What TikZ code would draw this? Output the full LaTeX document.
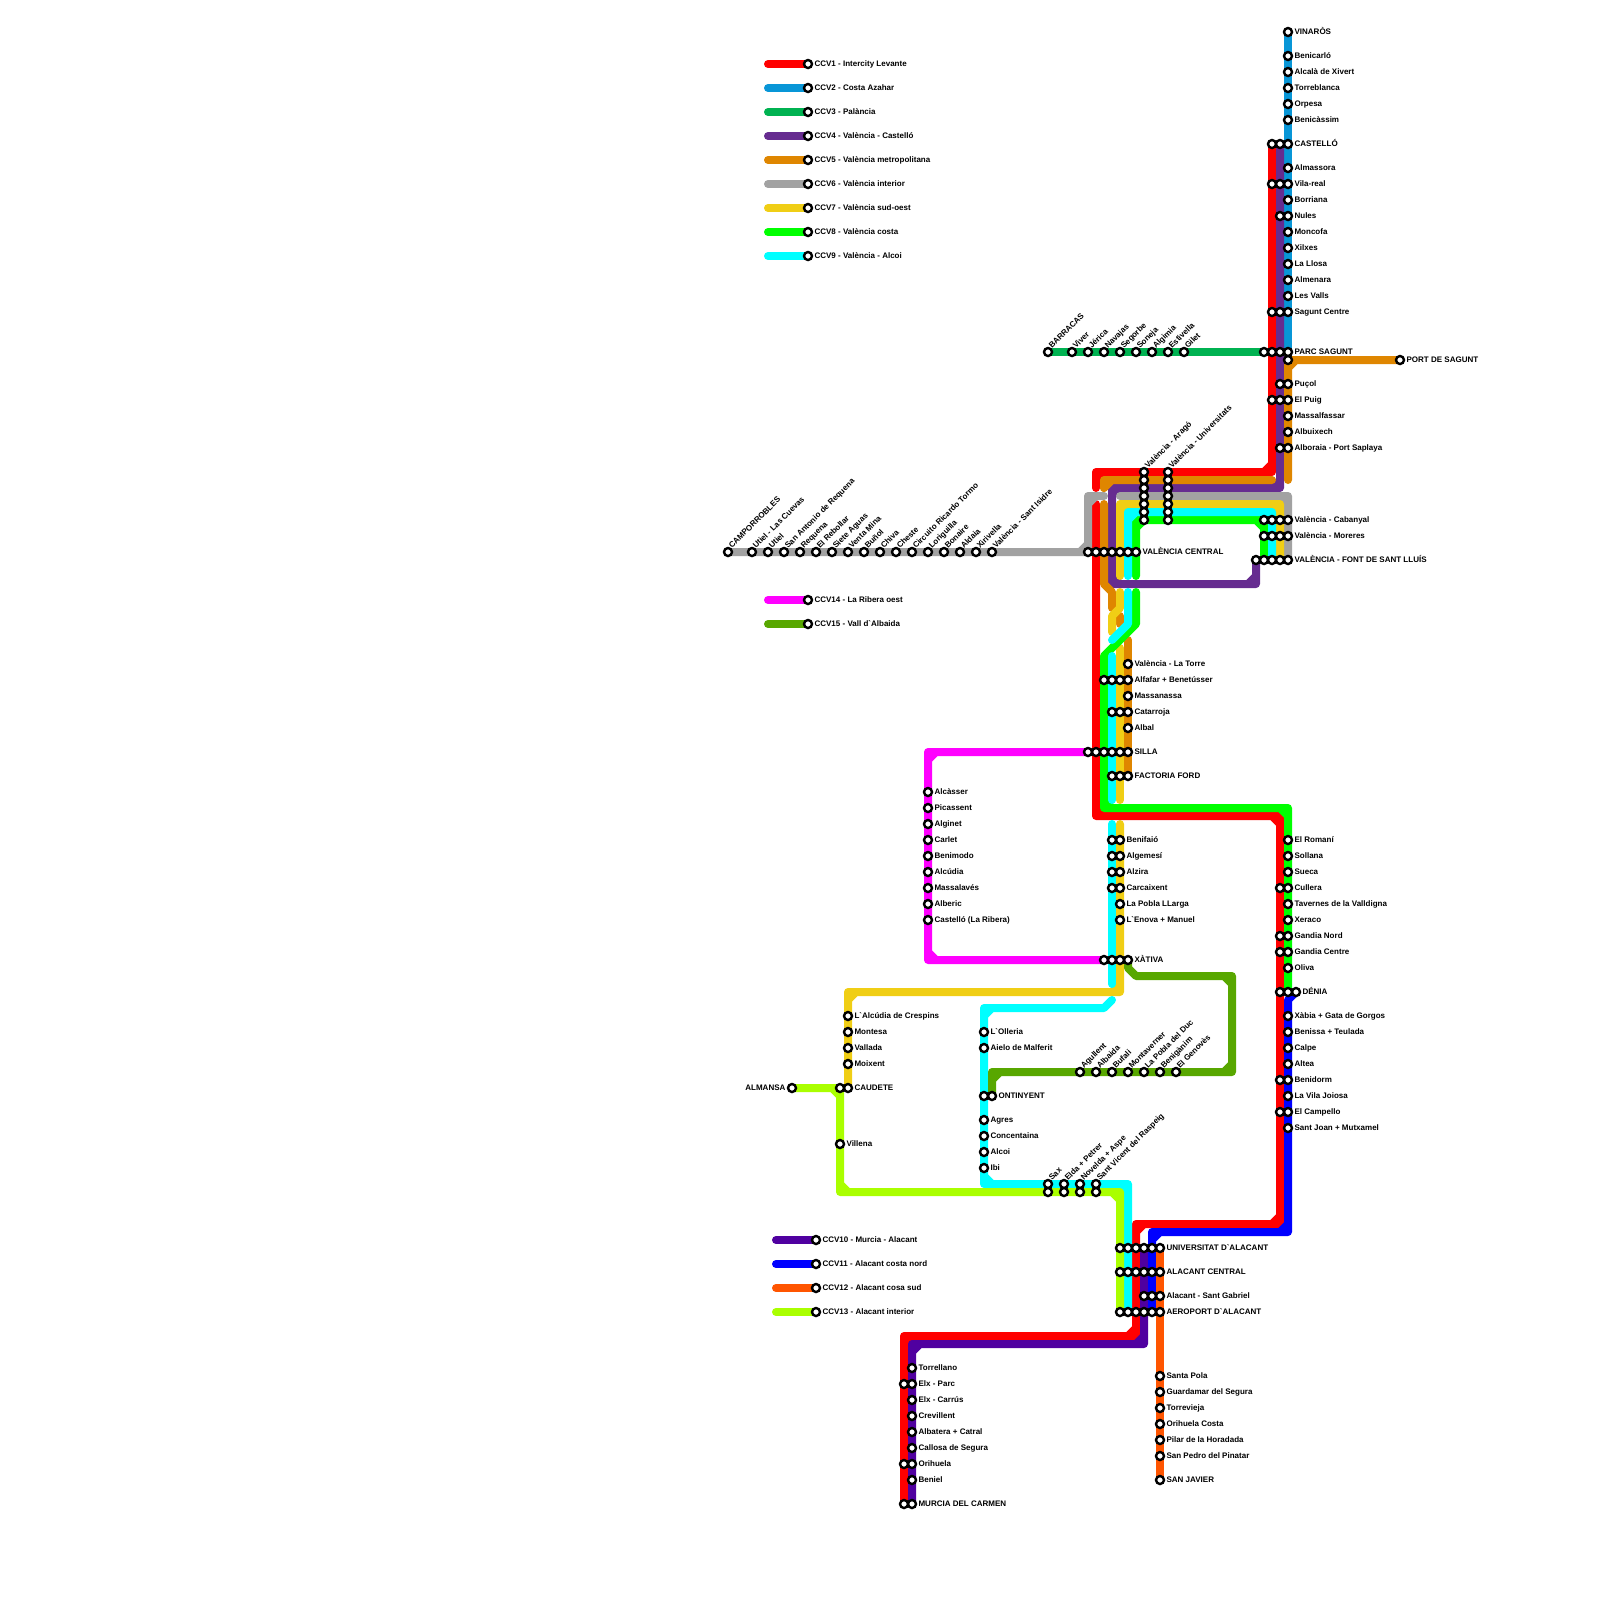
\documentclass[tikz,border=0pt]{standalone}
\usepackage{fontspec}
\setmainfont{Liberation Sans}[Ligatures=TeXOff]
\usetikzlibrary{backgrounds}
\definecolor{ccvone}{HTML}{FF0000}
\definecolor{ccvtwo}{HTML}{0896D7}
\definecolor{ccvthree}{HTML}{00B251}
\definecolor{ccvfour}{HTML}{662C90}
\definecolor{ccvfive}{HTML}{DF8600}
\definecolor{ccvsix}{HTML}{A2A2A2}
\definecolor{ccvseven}{HTML}{F0CE15}
\definecolor{ccveight}{HTML}{00FF00}
\definecolor{ccvnine}{HTML}{00FFFF}
\definecolor{ccvten}{HTML}{5000A0}
\definecolor{ccveleven}{HTML}{0000FF}
\definecolor{ccvtwelve}{HTML}{FF5500}
\definecolor{ccvthirteen}{HTML}{AAFF00}
\definecolor{ccvfourteen}{HTML}{FF00FF}
\definecolor{ccvfifteen}{HTML}{58A700}
\tikzset{
  ccvline/.style={line width=1mm,line cap=round,line join=round},
  stn/.style={circle,draw=black,fill=white,line width=0.3mm,minimum size=1mm,inner sep=0pt,outer sep=0pt},
  stnlab/.style={inner sep=0pt,font=\fontsize{2.85}{3.4}\selectfont\bfseries},
  rlab/.style={stnlab,anchor=base west,xshift=0.75mm,yshift=-0.25mm},
  llab/.style={stnlab,anchor=base east,xshift=-0.75mm,yshift=-0.25mm},
  dlab/.style={stnlab,anchor=base west,xshift=0.46mm,yshift=0.34mm,rotate=45}
}
% a corner: square outside, cut inside
\def\elbow(#1)(#2)(#3){--(#1)--(#2)--(#3)--(#1)--(#2)--(#3)}
\begin{document}
\begin{tikzpicture}[x=1mm,y=-1mm]
\useasboundingbox (0,0) rectangle (200,200);
% stations with a label on the right
\foreach \n/\x/\y/\t in {
  legccvone/101/8/CCV1 - Intercity Levante, legccvtwo/101/11/CCV2 - Costa Azahar,
  legccvthree/101/14/CCV3 - Palància, legccvfour/101/17/CCV4 - València - Castelló,
  legccvfive/101/20/CCV5 - València metropolitana, legccvsix/101/23/CCV6 - València interior,
  legccvseven/101/26/CCV7 - València sud-oest, legccveight/101/29/CCV8 - València costa,
  legccvnine/101/32/CCV9 - València - Alcoi, legccvfourteen/101/75/CCV14 - La Ribera oest,
  legccvfifteen/101/78/CCV15 - Vall d`Albaida, legccvten/102/155/CCV10 - Murcia - Alacant,
  legccveleven/102/158/CCV11 - Alacant costa nord, legccvtwelve/102/161/CCV12 - Alacant cosa sud,
  legccvthirteen/102/164/CCV13 - Alacant interior,
  vinaros/161/4/VINARÒS, benicarlo/161/7/Benicarló, alcala/161/9/Alcalà de Xivert,
  torreblanca/161/11/Torreblanca, orpesa/161/13/Orpesa, benicassim/161/15/Benicàssim,
  castello/161/18/CASTELLÓ, almassora/161/21/Almassora, vilareal/161/23/Vila-real,
  borriana/161/25/Borriana, nules/161/27/Nules, moncofa/161/29/Moncofa, xilxes/161/31/Xilxes,
  lallosa/161/33/La Llosa, almenara/161/35/Almenara, lesvalls/161/37/Les Valls,
  saguntcentre/161/39/Sagunt Centre, parcsagunt/161/44/PARC SAGUNT, portsagunt/175/45/PORT DE SAGUNT,
  pucol/161/48/Puçol, elpuig/161/50/El Puig, massalfassar/161/52/Massalfassar,
  albuixech/161/54/Albuixech, alboraia/161/56/Alboraia - Port Saplaya,
  cabanyal/161/65/València - Cabanyal, moreres/161/67/València - Moreres,
  fontlluis/161/70/VALÈNCIA - FONT DE SANT LLUÍS, vcentral/142/69/VALÈNCIA CENTRAL,
  latorre/141/83/València - La Torre, alfafar/141/85/Alfafar + Benetússer,
  massanassa/141/87/Massanassa, catarroja/141/89/Catarroja, albal/141/91/Albal,
  silla/141/94/SILLA, ford/141/97/FACTORIA FORD,
  alcasser/116/99/Alcàsser, picassent/116/101/Picassent, alginet/116/103/Alginet,
  carlet/116/105/Carlet, benimodo/116/107/Benimodo, alcudia/116/109/Alcúdia,
  massalaves/116/111/Massalavés, alberic/116/113/Alberic, castellor/116/115/Castelló (La Ribera),
  benifaio/140/105/Benifaió, algemesi/140/107/Algemesí, alzira/140/109/Alzira,
  carcaixent/140/111/Carcaixent, poblallarga/140/113/La Pobla LLarga, enova/140/115/L`Enova + Manuel,
  xativa/141/120/XÀTIVA,
  romani/161/105/El Romaní, sollana/161/107/Sollana, sueca/161/109/Sueca, cullera/161/111/Cullera,
  tavernes/161/113/Tavernes de la Valldigna, xeraco/161/115/Xeraco, gandianord/161/117/Gandia Nord,
  gandiacentre/161/119/Gandia Centre, oliva/161/121/Oliva, denia/162/124/DÉNIA,
  xabia/161/127/Xàbia + Gata de Gorgos, benissa/161/129/Benissa + Teulada, calpe/161/131/Calpe,
  altea/161/133/Altea, benidorm/161/135/Benidorm, vilajoiosa/161/137/La Vila Joiosa,
  campello/161/139/El Campello, santjoan/161/141/Sant Joan + Mutxamel,
  crespins/106/127/L`Alcúdia de Crespins, montesa/106/129/Montesa, vallada/106/131/Vallada,
  moixent/106/133/Moixent, caudete/106/136/CAUDETE, villena/105/143/Villena,
  olleria/123/129/L`Olleria, aielo/123/131/Aielo de Malferit, ontinyent/124/137/ONTINYENT,
  agres/123/140/Agres, concentaina/123/142/Concentaina, alcoi/123/144/Alcoi, ibi/123/146/Ibi,
  univalacant/145/156/UNIVERSITAT D`ALACANT, alacantc/145/159/ALACANT CENTRAL,
  gabriel/145/162/Alacant - Sant Gabriel, aeroport/145/164/AEROPORT D`ALACANT,
  santapola/145/172/Santa Pola, guardamar/145/174/Guardamar del Segura, torrevieja/145/176/Torrevieja,
  orihuelac/145/178/Orihuela Costa, pilar/145/180/Pilar de la Horadada,
  sanpedro/145/182/San Pedro del Pinatar, sanjavier/145/185/SAN JAVIER,
  torrellano/114/171/Torrellano, elxparc/114/173/Elx - Parc, elxcarrus/114/175/Elx - Carrús,
  crevillent/114/177/Crevillent, albatera/114/179/Albatera + Catral,
  callosa/114/181/Callosa de Segura, orihuela/114/183/Orihuela, beniel/114/185/Beniel,
  murcia/114/188/MURCIA DEL CARMEN}
  {\node[stn] (\n) at (\x,\y) {}; \node[rlab] (\n lab) at (\n.center) {\t};}
% stations with a slanted label
\foreach \n/\x/\y/\t in {
  barracas/131/44/BARRACAS, viver/134/44/Viver, jerica/136/44/Jérica, navajas/138/44/Navajas,
  segorbe/140/44/Segorbe, soneja/142/44/Soneja, algimia/144/44/Algimia, estivella/146/44/Estivella,
  gilet/148/44/Gilet, arago/143/59/València - Aragó, universitats/146/59/València - Universitats,
  camporrobles/91/69/CAMPORROBLES, lascuevas/94/69/Utiel - Las Cuevas, utiel/96/69/Utiel,
  santonio/98/69/San Antonio de Requena, requena/100/69/Requena, rebollar/102/69/El Rebollar,
  siete/104/69/Siete Aguas, ventamina/106/69/Venta Mina, bunol/108/69/Buñol, chiva/110/69/Chiva,
  cheste/112/69/Cheste, circuito/114/69/Circuito Ricardo Tormo, loriguilla/116/69/Loriguilla,
  bonaire/118/69/Bonaire, aldaia/120/69/Aldaia, xirivella/122/69/Xirivella,
  isidre/124/69/València - Sant Isidre,
  agullent/135/134/Agullent, albaida/137/134/Albaida, bufali/139/134/Bufali,
  montaverner/141/134/Montaverner, pobladuc/143/134/La Pobla del Duc, beniganim/145/134/Benigànim,
  genoves/147/134/El Genovès,
  sax/131/148/Sax, elda/133/148/Elda + Petrer, novelda/135/148/Novelda + Aspe,
  raspeig/137/148/Sant Vicent del Raspeig}
  {\node[stn] (\n) at (\x,\y) {}; \node[dlab] (\n lab) at (\n.center) {\t};}
\node[stn] (almansa) at (99,136) {};
\node[llab] (almansa lab) at (almansa.center) {ALMANSA};
% the rings beside a labelled station
\foreach \x/\y in {159/18,160/18,159/23,160/23,160/27,159/39,160/39,158/44,159/44,160/44,161/45,
  160/48,159/50,160/50,160/56,
  143/60,143/61,143/62,143/63,143/64,143/65,146/60,146/61,146/62,146/63,146/64,146/65,
  158/65,159/65,160/65,158/67,159/67,160/67,157/70,158/70,159/70,160/70,
  136/69,137/69,138/69,139/69,140/69,141/69,
  138/85,139/85,140/85,139/89,140/89,136/94,137/94,138/94,139/94,140/94,139/97,140/97,
  139/105,139/107,139/109,139/111,138/120,139/120,140/120,
  160/111,160/117,160/119,160/124,161/124,160/135,160/139,
  105/136,123/137,131/149,133/149,135/149,137/149,
  140/156,141/156,142/156,143/156,144/156,140/159,141/159,142/159,143/159,144/159,
  143/162,144/162,140/164,141/164,142/164,143/164,144/164,
  113/173,113/183,113/188}
  {\node[stn] (i\x x\y) at (\x,\y) {};}
% free ends of the broken lines
\foreach \n/\x/\y in {
  redgapa/137/61,redgapb/137/63,orangeend/161/60,orangetop/159/60,orangegapa/138/61,orangegapb/138/63,
  orangegapc/139/76,orangebita/140/77,orangebitb/140/78,orangelow/141/80,
  graygapa/138/62,graygapb/140/62,yellowa/140/72,yellowb/140/74,yellowc/139/79,yellowd/140/81,
  yellowe/140/100,yellowf/140/103,limea/142/72,limeb/142/74,
  cyana/141/72,cyanb/141/74,cyanc/139/80,cyand/139/82,cyane/139/100,cyanf/139/103,cyang/139/123,cyanh/139/125}
  {\coordinate (\n) at (\x,\y);}
\begin{scope}[on background layer]
\foreach \c/\s in {ccvone/96,ccvtwo/96,ccvthree/96,ccvfour/96,ccvfive/96,ccvsix/96,ccvseven/96,
  ccveight/96,ccvnine/96,ccvfourteen/96,ccvfifteen/96,ccvten/97,ccveleven/97,ccvtwelve/97,ccvthirteen/97}
  {\draw[ccvline,\c] (\s,0 |- leg\c.center) -- (leg\c.center);}
% CCV1
\draw[ccvline,ccvone] (i159x18.center) \elbow(159,58)(159,59)(158,59) \elbow(138,59)(137,59)(137,60) -- (redgapa);
\draw[ccvline,ccvone] (redgapb) \elbow(137,101)(137,102)(138,102) \elbow(159,102)(160,102)(160,103)
  \elbow(160,152)(160,153)(159,153) \elbow(143,153)(142,153)(142,154) \elbow(142,166)(142,167)(141,167)
  \elbow(114,167)(113,167)(113,168) -- (i113x188.center);
% CCV2 and CCV3
\draw[ccvline,ccvtwo] (vinaros.center) -- (parcsagunt.center);
\draw[ccvline,ccvthree] (barracas.center) -- (i158x44.center);
% CCV4
\draw[ccvline,ccvfour] (i160x18.center) \elbow(160,60)(160,61)(159,61) \elbow(140,61)(139,61)(139,62)
  \elbow(139,72)(139,73)(140,73) \elbow(156,73)(157,73)(157,72) -- (i157x70.center);
% CCV5
\draw[ccvline,ccvfive] (portsagunt.center) \elbow(162,45)(161,45)(161,46) -- (orangeend);
\draw[ccvline,ccvfive] (orangetop) \elbow(139,60)(138,60)(138,61) -- (orangegapa);
\draw[ccvline,ccvfive] (orangegapb) -- (138,73) -- (139,74) -- (orangegapc);
\draw[ccvline,ccvfive] (orangebita) -- (orangebitb);
\draw[ccvline,ccvfive] (orangelow) -- (ford.center);
% CCV6
\draw[ccvline,ccvsix] (camporrobles.center) \elbow(135,69)(136,69)(136,68) \elbow(136,63)(136,62)(137,62) -- (graygapa);
\draw[ccvline,ccvsix] (graygapb) \elbow(160,62)(161,62)(161,63) -- (fontlluis.center);
% CCV7
\draw[ccvline,ccvseven] (i160x70.center) \elbow(160,64)(160,63)(159,63) \elbow(141,63)(140,63)(140,64) -- (yellowa);
\draw[ccvline,ccvseven] (yellowb) -- (140,76) -- (139,77) -- (yellowc);
\draw[ccvline,ccvseven] (yellowd) -- (yellowe);
\draw[ccvline,ccvseven] (yellowf) \elbow(140,123)(140,124)(139,124) \elbow(107,124)(106,124)(106,125) -- (caudete.center);
% CCV8
\draw[ccvline,ccveight] (i158x70.center) \elbow(158,66)(158,65)(157,65) \elbow(143,65)(142,65)(142,66) -- (limea);
\draw[ccvline,ccveight] (limeb) -- (142,78) -- (138,82) \elbow(138,100)(138,101)(139,101)
  \elbow(160,101)(161,101)(161,102) -- (i161x124.center);
% CCV9
\draw[ccvline,ccvnine] (i159x70.center) \elbow(159,65)(159,64)(158,64) \elbow(142,64)(141,64)(141,65) -- (cyana);
\draw[ccvline,ccvnine] (cyanb) -- (141,78) -- (cyanc);
\draw[ccvline,ccvnine] (cyand) -- (cyane);
\draw[ccvline,ccvnine] (cyanf) -- (cyang);
\draw[ccvline,ccvnine] (cyanh) -- (138,126) \elbow(124,126)(123,126)(123,127) \elbow(123,147)(123,148)(124,148)
  \elbow(140,148)(141,148)(141,149) -- (i141x164.center);
% CCV10 to CCV13
\draw[ccvline,ccvten] (i143x156.center) \elbow(143,167)(143,168)(142,168) \elbow(115,168)(114,168)(114,169) -- (murcia.center);
\draw[ccvline,ccveleven] (denia.center) -- (161,125) \elbow(161,153)(161,154)(160,154) \elbow(145,154)(144,154)(144,155) -- (i144x164.center);
\draw[ccvline,ccvtwelve] (univalacant.center) -- (sanjavier.center);
\draw[ccvline,ccvthirteen] (almansa.center) \elbow(104,136)(105,136)(105,137) \elbow(105,148)(105,149)(106,149)
  \elbow(139,149)(140,149)(140,150) -- (i140x164.center);
% CCV14 and CCV15
\draw[ccvline,ccvfourteen] (i136x94.center) \elbow(117,94)(116,94)(116,95) \elbow(116,119)(116,120)(117,120) -- (i138x120.center);
\draw[ccvline,ccvfifteen] (xativa.center) -- (141,121) -- (142,122) \elbow(153,122)(154,122)(154,123) \elbow(154,133)(154,134)(153,134)
  \elbow(125,134)(124,134)(124,135) -- (ontinyent.center);
\end{scope}
\end{tikzpicture}
\end{document}
